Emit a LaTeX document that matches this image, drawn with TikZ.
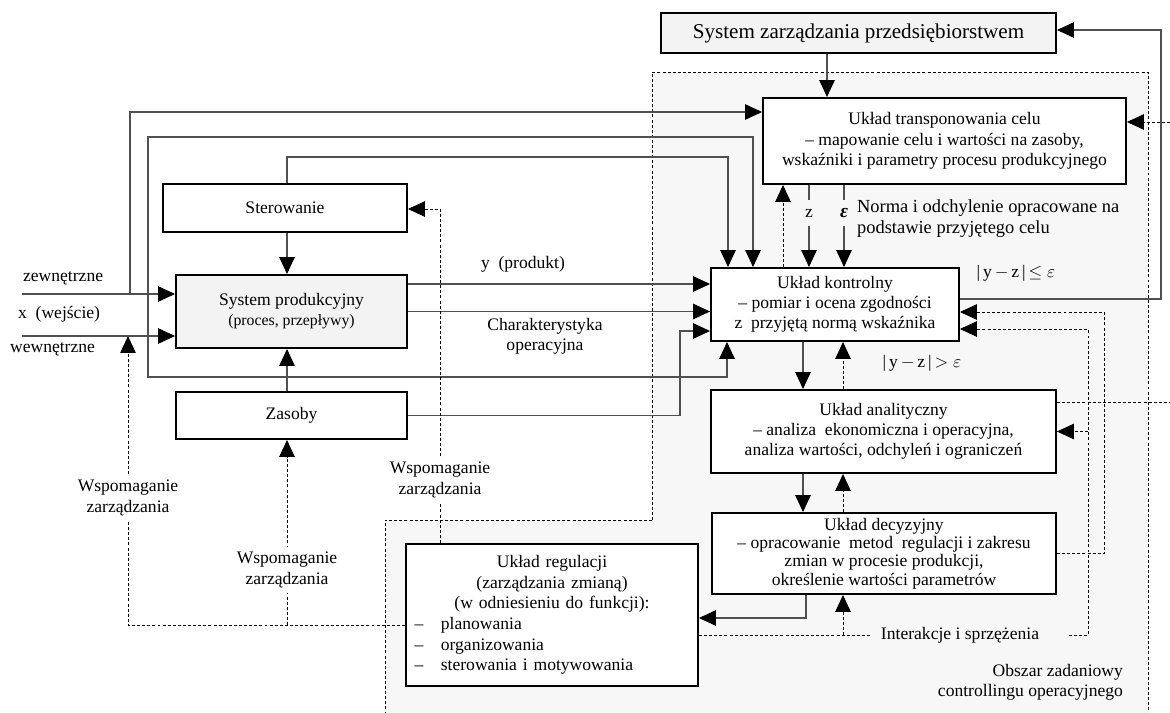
\documentclass[tikz,border=0pt]{standalone}
\usepackage{fontspec}
\setmainfont{Liberation Serif}
\definecolor{obszargray}{HTML}{F7F7F7}
\definecolor{blokgray}{HTML}{F3F3F3}
\definecolor{liniagray}{HTML}{505050}
\usetikzlibrary{arrows.meta,positioning}
\tikzset{
    blok/.style={
        draw=black,
        fill=white,
        line width=1.1pt,
        align=center,
        inner sep=2pt,
        font=\fontsize{10}{11.5}\selectfont
    },
    blokszary/.style={
        blok,
        fill=blokgray
    },
    strzalka/.style={
        -{Triangle[length=3.4mm,width=3.1mm,color=black]},
        draw=liniagray,
        line width=0.6pt
    },
    strzalkaobie/.style={
        {Triangle[length=3.4mm,width=3.1mm,color=black]}-{Triangle[length=3.4mm,width=3.1mm,color=black]},
        draw=liniagray,
        line width=0.6pt
    },
    kropki/.style={
        draw=black,
        line width=0.5pt,
        dash pattern=on 1.7pt off 1.2pt
    },
    kropkistrzalka/.style={
        kropki,
        -{Triangle[length=3.4mm,width=3.1mm]}
    },
    opis/.style={
        align=center,
        inner sep=1pt,
        font=\fontsize{10}{11.5}\selectfont
    }
}

\begin{document}
\begin{tikzpicture}[x=0.02cm,y=-0.02cm,
        opisprzerwa/.style={opis,fill=white,inner sep=3pt}
    ]
    \useasboundingbox (0,0) rectangle (1170,713);

    % obszar zadaniowy controllingu
    \fill[obszargray] (652,72) -- (1148,72) -- (1148,713) -- (385,713)
        -- (385,520) -- (652,520) -- cycle;
    \draw[kropki] (652,520) -- (652,72) -- (1148,72) -- (1148,713);
    \draw[kropki] (652,520) -- (385,520) -- (385,713);

    % bloki
    \node[blokszary,minimum width=7.9cm,minimum height=0.8cm,
          font=\fontsize{12}{14}\selectfont] (zarzadzanie) at (858.5,33)
        {System zarządzania przedsiębiorstwem};
    \node[blok,minimum width=7.26cm,minimum height=1.72cm] (transpon) at (944.5,141)
        {Układ transponowania celu\\
         -- mapowanie celu i wartości na zasoby,\\
         wskaźniki i parametry procesu produkcyjnego};
    \node[blok,minimum width=4.96cm,minimum height=1.46cm] (kontrolny) at (835,304.5)
        {Układ kontrolny\\
         -- pomiar i ocena zgodności\\
         z\ \ przyjętą normą wskaźnika};
    \node[blok,minimum width=6.9cm,minimum height=1.66cm] (analityczny) at (883.5,431.5)
        {Układ analityczny\\
         -- analiza\ \ ekonomiczna i operacyjna,\\
         analiza wartości, odchyleń i ograniczeń};
    \node[blok,minimum width=6.88cm,minimum height=1.62cm,
          font=\fontsize{10}{10.5}\selectfont] (decyzyjny) at (884,553.5)
        {Układ decyzyjny\\
         -- opracowanie\ \ metod\ \ regulacji i zakresu\\
         zmian w procesie produkcji,\\
         określenie wartości parametrów};
    \node[blok,minimum width=5.84cm,minimum height=2.84cm,text width=5.5cm,align=left,
          font=\fontsize{10}{11.7}\selectfont] (regulacja) at (552,615)
        {\centering Układ regulacji\\
         (zarządzania zmianą)\\
         (w odniesieniu do funkcji):\par
         \raggedright --\quad planowania\\
         --\quad organizowania\\
         --\quad sterowania i motywowania};
    \node[blok,minimum width=4.88cm,minimum height=0.96cm] (sterowanie) at (285,208)
        {Sterowanie};
    \node[blokszary,minimum width=4.62cm,minimum height=1.46cm] (produkcja) at (291.5,311.5)
        {System produkcyjny\\ {\fontsize{9}{11}\selectfont(proces, przepływy)}};
    \node[blok,minimum width=4.62cm,minimum height=0.94cm] (zasoby) at (291.5,415.5)
        {Zasoby};

    % punkty pomocnicze
    \coordinate (wejscieZ) at (22,294);
    \coordinate (wejscieW) at (22,336);
    \coordinate (petla1) at (130,112);
    \coordinate (petlaK1) at (727,377);
    \coordinate (petlaK2) at (148,377);
    \coordinate (petlaK3) at (148,137);
    \coordinate (petlaK4) at (753,137);
    \coordinate (petlaS1) at (287,157);
    \coordinate (petlaS2) at (728,157);
    \coordinate (poziomY) at (0,284);
    \coordinate (petlaZ) at (680,331);
    \coordinate (petlaW) at (440,209);
    \coordinate (dolW1) at (128,625);
    \coordinate (dolW2) at (287,625);
    \coordinate (pasT) at (827,0);
    \coordinate (pasK) at (783,0);
    \coordinate (pasZ) at (809,0);
    \coordinate (pasE) at (844,0);
    \coordinate (pasD) at (803,0);
    \coordinate (pasG) at (843,0);
    \coordinate (petlaR) at (806,618);
    \coordinate (szyna1) at (1088,329);
    \coordinate (szyna1d) at (1088,635);
    \coordinate (szyna2) at (1104,312);
    \coordinate (szyna3) at (1161,299);
    \coordinate (szyna3g) at (1161,30);
    \coordinate (wyjscieA) at (1170,402);
    \coordinate (wejscieT) at (1170,122);

    % wejscia i produkcja
    \draw[strzalka] (wejscieZ) -- (wejscieZ -| produkcja.west);
    \draw[strzalka] (wejscieW) -- (wejscieW -| produkcja.west);
    \draw[strzalka] (petla1 |- wejscieZ) -- (petla1) -- (petla1 -| transpon.west);
    \draw[strzalkaobie] (petlaK1 |- kontrolny.south) -- (petlaK1) -- (petlaK2)
        -- (petlaK3) -- (petlaK4) -- (petlaK4 |- kontrolny.north);
    \draw[strzalka] (petlaS1 |- sterowanie.north) -- (petlaS1) -- (petlaS2)
        -- (petlaS2 |- kontrolny.north);
    \draw[strzalka] (petlaS1 |- sterowanie.south) -- (petlaS1 |- produkcja.north);
    \draw[strzalka] (petlaS1 |- zasoby.north) -- (petlaS1 |- produkcja.south);
    \draw[strzalka] (produkcja.east |- poziomY) -- (kontrolny.west |- poziomY);
    \draw[strzalka] (produkcja.east) -- (kontrolny.west |- produkcja.east);
    \draw[strzalka] (zasoby.east) -- (zasoby.east -| petlaZ) -- (petlaZ)
        -- (petlaZ -| kontrolny.west);

    % wspomaganie zarzadzania
    \draw[kropkistrzalka] (petlaW |- regulacja.north) -- (petlaW) -- (petlaW -| sterowanie.east);
    \draw[kropkistrzalka] (regulacja.west |- dolW1) -- (dolW1) -- (dolW1 |- wejscieW);
    \draw[kropkistrzalka] (dolW2) -- (dolW2 |- zasoby.south);

    % uklad controllingu
    \draw[strzalka] (zarzadzanie.south -| pasT) -- (transpon.north -| pasT);
    \draw[kropkistrzalka] (kontrolny.north -| pasK) -- (transpon.south -| pasK);
    \draw[strzalka] (transpon.south -| pasZ) -- (kontrolny.north -| pasZ);
    \draw[strzalka] (transpon.south -| pasE) -- (kontrolny.north -| pasE);
    \draw[strzalka] (kontrolny.south -| pasD) -- (analityczny.north -| pasD);
    \draw[kropkistrzalka] (analityczny.north -| pasG) -- (kontrolny.south -| pasG);
    \draw[strzalka] (analityczny.south -| pasD) -- (decyzyjny.north -| pasD);
    \draw[kropkistrzalka] (decyzyjny.north -| pasG) -- (analityczny.south -| pasG);
    \draw[strzalka] (petlaR |- decyzyjny.south) -- (petlaR) -- (petlaR -| regulacja.east);
    \draw[strzalka] (kontrolny.east |- szyna3) -- (szyna3) -- (szyna3g)
        -- (szyna3g -| zarzadzanie.east);

    % interakcje i sprzezenia
    \node[opis] (interakcje) at (960,635) {Interakcje i sprzężenia};
    \draw[kropki] (regulacja.east |- interakcje) -- ([xshift=-0.15cm]interakcje.west);
    \draw[kropkistrzalka] (pasG |- interakcje) -- (decyzyjny.south -| pasG);
    \draw[kropkistrzalka] ([xshift=0.55cm]interakcje.east) -- (szyna1d) -- (szyna1)
        -- (szyna1 -| kontrolny.east);
    \draw[kropkistrzalka] (szyna1 |- analityczny.east) -- (analityczny.east);
    \draw[kropkistrzalka] (decyzyjny.east) -- (decyzyjny.east -| szyna2) -- (szyna2)
        -- (szyna2 -| kontrolny.east);
    \draw[kropki] (analityczny.east |- wyjscieA) -- (wyjscieA);
    \draw[kropkistrzalka] (wejscieT) -- (wejscieT -| transpon.east);

    % opisy
    \node[opis,anchor=west] (zewnetrzne) at (21,278) {zewnętrzne};
    \node[opis,anchor=west] (wejscie) at (16,314) {x\ \ (wejście)};
    \node[opis,anchor=west] (wewnetrzne) at (8,349) {wewnętrzne};
    \node[opis] (produkt) at (523,264) {y\ \ (produkt)};
    \node[opis] (charakterystyka) at (545,336) {Charakterystyka\\ operacyjna};
    \node[opisprzerwa] (wspomaganie1) at (128,498) {Wspomaganie\\ zarządzania};
    \node[opisprzerwa] (wspomaganie2) at (287,570) {Wspomaganie\\ zarządzania};
    \node[opisprzerwa] (wspomaganie3) at (440,480) {Wspomaganie\\ zarządzania};
    \node[opis,fill=obszargray,inner ysep=5pt] (znorma) at (809,213) {z};
    \node[opis,fill=obszargray,inner ysep=5pt,font=\fontsize{11}{12}\selectfont\bfseries\itshape]
        (odchylenie) at (844,213) {ε};
    \node[opis,anchor=west,align=left,font=\fontsize{10.5}{12}\selectfont] (norma) at (855,219)
        {Norma i odchylenie opracowane na\\ podstawie przyjętego celu};
    \node[opis] (zgodnosc) at (1016,273) {|\,y\,$-$\,z\,|\,$\leq\varepsilon$};
    \node[opis] (niezgodnosc) at (922,363) {|\,y\,$-$\,z\,|\,$>\varepsilon$};
    \node[opis,anchor=east,align=right] (obszar) at (1125,682)
        {Obszar zadaniowy\\ controllingu operacyjnego};
\end{tikzpicture}
\end{document}
